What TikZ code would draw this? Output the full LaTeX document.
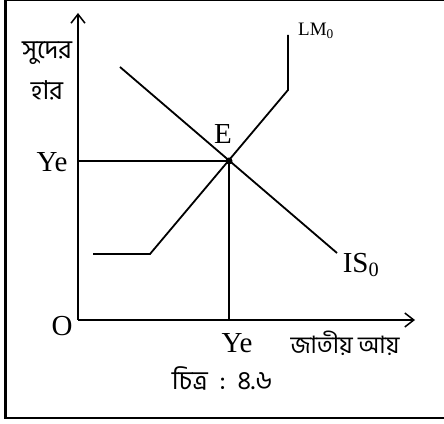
\documentclass[tikz,border=0pt]{standalone}
\usepackage{fontspec}
\setmainfont{Liberation Serif}
\newfontfamily\bn[Script=Bengali]{Hind Siliguri}
\usetikzlibrary{arrows.meta}
\begin{document}
\begin{tikzpicture}[x=1pt,y=1pt,
  axis/.style={line width=1.5pt,-{Straight Barb[length=9pt,width=14pt,line width=1.5pt]}},
  curve/.style={line width=1.8pt},
  guide/.style={line width=1.4pt},
  lbl/.style={inner sep=0pt,font=\fontsize{29}{29}\selectfont},
  bnl/.style={inner sep=0pt,font=\bn\fontsize{25}{26}\selectfont},
  small/.style={inner sep=0pt,font=\fontsize{19}{19}\selectfont}]
\useasboundingbox (0,0) rectangle (444,423);
\draw[line width=2.5pt] (5.5,5) rectangle (447,423);
% axes
\coordinate (O) at (78,103);
\coordinate (ytop) at (78,410);
\coordinate (xend) at (415,103);
\draw[axis] (O) -- (ytop);
\draw[axis] (O) -- (xend);
% equilibrium
\coordinate (E) at (229,262);
\coordinate (yeY) at (78,262);
\coordinate (yeX) at (229,103);
\draw[guide] (yeY) -- (E);
\draw[guide] (yeX) -- (E);
% IS
\coordinate (is1) at (120,356);
\coordinate (is2) at (337,170);
\draw[curve] (is1) -- (is2);
% LM
\coordinate (lm1) at (93,169);
\coordinate (lm2) at (150,169);
\coordinate (lm3) at (288,333);
\coordinate (lm4) at (288,388);
\draw[curve] (lm1) -- (lm2) -- (lm3) -- (lm4);
\fill (E) circle (3.5pt);
% labels
\node[small] (lmlab) at (316,392) {LM\textsubscript{0}};
\node[lbl] (islab) at (361,158) {IS\textsubscript{0}};
\node[lbl] (elab) at (223,289) {E};
\node[lbl] (yel) at (52,261) {Ye};
\node[lbl] (olab) at (62,97) {O};
\node[lbl] (yeb) at (237,80) {Ye};
\node[bnl,font=\bn\fontsize{24}{26}\selectfont] (xlab) at (345,80) {জাতীয় আয়};
\node[bnl,font=\bn\fontsize{26}{26}\selectfont] (ylab1) at (47,370) {সুদের};
\node[bnl,font=\bn\fontsize{26}{26}\selectfont] (ylab2) at (47,333) {হার};
\node[bnl,font=\bn\fontsize{26}{28}\selectfont] (cap) at (222,45) {চিত্র\ \ :\ \ ৪.৬};
\end{tikzpicture}
\end{document}
